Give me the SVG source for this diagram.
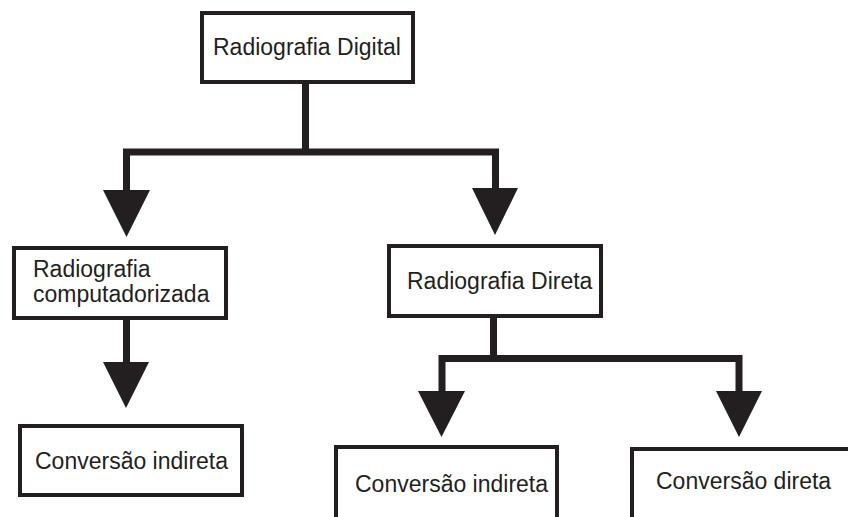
<svg xmlns="http://www.w3.org/2000/svg" width="848" height="517" viewBox="0 0 848 517">
  <style>
    .box { fill: #ffffff; stroke: #231f20; stroke-width: 4; }
    .label { font-family: "Liberation Sans", Arial, sans-serif; font-size: 23px; fill: #231f20; }
    .wire { fill: none; stroke: #231f20; stroke-width: 7; stroke-linejoin: miter; }
    .head { fill: #231f20; }
  </style>
  <rect width="848" height="517" fill="#ffffff"/>

  <g id="connectors">
    <path class="wire" d="M305.5 84 V152"/>
    <path class="wire" d="M126.5 191 V152 H495.5 V189"/>
    <polygon class="head" points="103,190 150,190 126.5,237"/>
    <polygon class="head" points="472,188 518,188 495,235"/>
    <path class="wire" d="M126.5 320 V363"/>
    <polygon class="head" points="103,362 149,362 126,408"/>
    <path class="wire" d="M493.5 318 V358.5"/>
    <path class="wire" d="M442 392 V358.5 H739 V392"/>
    <polygon class="head" points="418,391 465,391 441.5,437"/>
    <polygon class="head" points="716,391 762,391 739,437"/>
  </g>

  <g id="radiografia-digital">
    <rect class="box" x="202" y="13" width="211" height="69"/>
    <text class="label" x="213" y="55">Radiografia Digital</text>
  </g>

  <g id="radiografia-computadorizada">
    <rect class="box" x="14" y="248" width="212" height="70"/>
    <text class="label" x="33" y="277">Radiografia</text>
    <text class="label" x="33" y="302">computadorizada</text>
  </g>

  <g id="radiografia-direta">
    <rect class="box" x="389" y="246" width="212" height="70"/>
    <text class="label" x="407" y="289">Radiografia Direta</text>
  </g>

  <g id="conversao-indireta-cr">
    <rect class="box" x="20" y="426" width="222" height="69"/>
    <text class="label" x="35" y="469">Conversão indireta</text>
  </g>

  <g id="conversao-indireta-dr">
    <rect class="box" x="336" y="447" width="221" height="100"/>
    <text class="label" x="355" y="492">Conversão indireta</text>
  </g>

  <g id="conversao-direta">
    <rect class="box" x="632" y="449" width="250" height="100"/>
    <text class="label" x="656" y="489">Conversão direta</text>
  </g>
</svg>
